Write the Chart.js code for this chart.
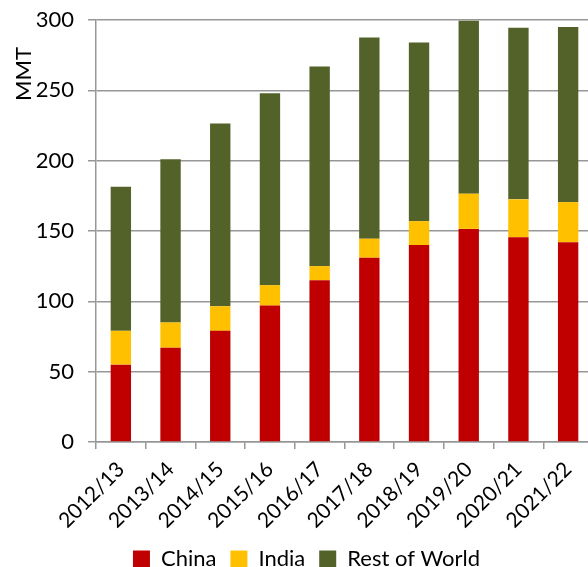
<!DOCTYPE html>
<html>
<head>
<meta charset="utf-8">
<script src="https://cdn.jsdelivr.net/npm/chart.js@4/dist/chart.umd.min.js"></script>
<style>
  html, body { margin: 0; padding: 0; background: #fff; }
  #wrap { width: 588px; height: 567px; overflow: hidden; position: relative; }
  #myChart { display: block; }
</style>
</head>
<body>
<div id="wrap">
  <canvas id="myChart" width="594" height="580"></canvas>
</div>
<script>
// Seasons and production by origin (MMT)
const seasons = ['2012/13', '2013/14', '2014/15', '2015/16', '2016/17', '2017/18', '2018/19', '2019/20', '2020/21', '2021/22'];
const china = [55, 67, 79, 97, 115, 131, 140, 151.5, 145.5, 142];
const india = [24, 18, 17.5, 14.5, 10, 13.5, 17, 25, 27, 28.5];
const restOfWorld = [102.5, 116, 130, 136.5, 142, 143, 127, 123, 122, 124.5];
const yTicks = [0, 50, 100, 150, 200, 250, 300];

const fontFamily = 'Lato, "Open Sans", sans-serif';
const gridGray = '#979797';

// unit label drawn near the top of the value axis
const unitLabel = {
    id: 'unitLabel',
    afterDraw(chart) {
        const ctx = chart.ctx;
        ctx.save();
        ctx.translate(24, chart.chartArea.top + 54);
        ctx.rotate(-Math.PI / 2);
        ctx.font = '22px ' + fontFamily;
        ctx.fillStyle = '#000';
        ctx.textAlign = 'center';
        ctx.textBaseline = 'middle';
        ctx.fillText('MMT', 0, 0);
        ctx.restore();
    }
};

const data = {
    labels: seasons,
    datasets: [
        { label: 'China', data: china, backgroundColor: '#C00000' },
        { label: 'India', data: india, backgroundColor: '#FFC000' },
        { label: 'Rest of World', data: restOfWorld, backgroundColor: '#526229' }
    ]
};

const config = {
    type: 'bar',
    data: data,
    options: {
        responsive: false,
        animation: false,
        categoryPercentage: 1,
        barPercentage: 0.41,
        layout: { padding: { top: 20, left: 20, right: 1, bottom: 0 } },
        plugins: {
            legend: {
                position: 'bottom',
                labels: {
                    boxWidth: 17,
                    boxHeight: 17,
                    padding: 14,
                    color: '#000',
                    font: { family: fontFamily, size: 22 }
                }
            },
            tooltip: { enabled: false }
        },
        scales: {
            x: {
                stacked: true,
                afterFit: function (scale) { scale.height = 92; },
                grid: {
                    display: true,
                    drawOnChartArea: false,
                    drawTicks: true,
                    tickLength: 7,
                    color: gridGray,
                    lineWidth: 1.5
                },
                border: { display: true, color: gridGray, width: 1.5 },
                ticks: {
                    minRotation: 45,
                    maxRotation: 45,
                    padding: 8,
                    color: '#000',
                    font: { family: fontFamily, size: 21 }
                }
            },
            y: {
                stacked: true,
                min: 0,
                max: 300,
                afterFit: function (scale) {
                    scale.width = 76;
                    scale.paddingTop = 0;
                    scale.paddingBottom = 0;
                },
                afterBuildTicks: function (scale) {
                    scale.ticks = yTicks.map(v => ({ value: v }));
                },
                grid: {
                    color: gridGray,
                    lineWidth: 1.5,
                    drawTicks: true,
                    tickLength: 8
                },
                border: { display: true, color: gridGray, width: 1.5 },
                ticks: {
                    padding: 14,
                    color: '#000',
                    font: { family: fontFamily, size: 22 }
                }
            }
        }
    },
    plugins: [unitLabel]
};

const myChart = new Chart(document.getElementById('myChart'), config);
</script>
</body>
</html>
